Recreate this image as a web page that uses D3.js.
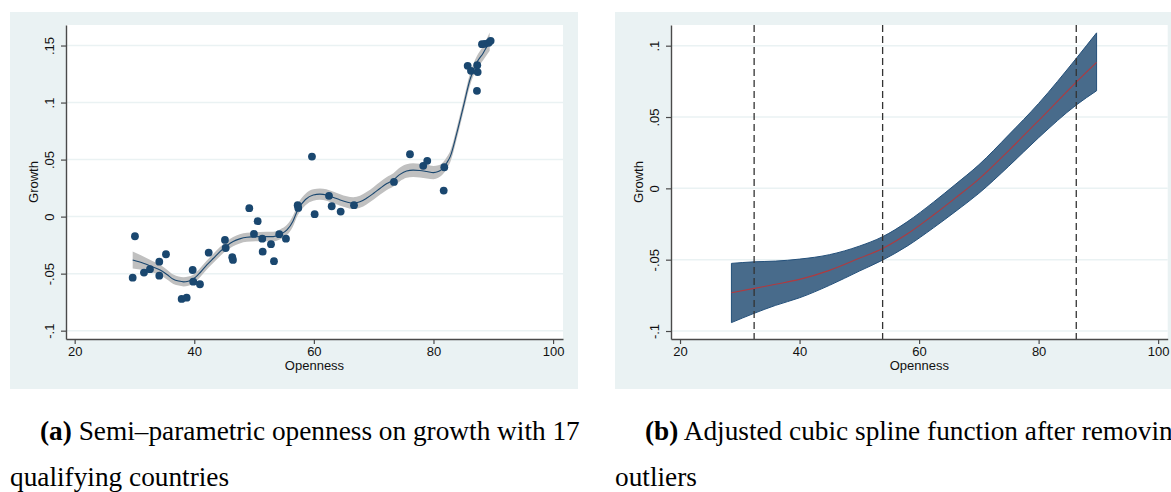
<!DOCTYPE html>
<html>
<head>
<meta charset="utf-8">
<script src="https://cdn.jsdelivr.net/npm/d3@7"></script>
<style>
  html, body { margin: 0; padding: 0; background: #ffffff; }
  svg { display: block; }
</style>
</head>
<body>
<svg id="chart" width="1171" height="492"></svg>
<script>
// ---------------- DATA ----------------
// Panel (a): scatter of openness vs growth
const scatterOpenness = [29.70, 30.08, 31.59, 32.59, 34.15, 34.15, 35.27, 37.89, 38.73, 39.73, 39.83, 40.95,
  42.41, 45.13, 45.25, 46.35, 46.47, 49.20, 49.98, 50.60, 51.37, 51.44, 52.83, 53.33, 54.21, 55.33,
  57.29, 57.39, 59.68, 60.13, 62.53, 62.98, 64.48, 66.71, 73.39, 76.07, 78.29, 78.96, 81.71, 81.81,
  85.72, 86.27, 87.32, 87.39, 87.27, 88.11, 88.61, 89.23, 89.56];
const scatterGrowth = [-0.0535, -0.0172, -0.0491, -0.0461, -0.0395, -0.0518, -0.0330, -0.0722, -0.0711, -0.0468, -0.0570, -0.0593,
  -0.0316, -0.0204, -0.0275, -0.0356, -0.0380, 0.0074, -0.0152, -0.0040, -0.0193, -0.0307, -0.0242, -0.0391, -0.0154, -0.0193,
  0.0100, 0.0076, 0.0526, 0.0021, 0.0182, 0.0091, 0.0044, 0.0100, 0.0304, 0.0547, 0.0445, 0.0489, 0.0228, 0.0433,
  0.1322, 0.1278, 0.1328, 0.1267, 0.1103, 0.1512, 0.1515, 0.1524, 0.1541];

// Panel (a): semi-parametric fit and half-width of its confidence band
const fitOpennessA = [29.7, 31.5, 33.0, 34.3, 35.5, 36.5, 37.4, 38.2, 39.0, 39.8, 41.0, 42.1, 43.2, 44.3, 45.4, 46.5,
  47.6, 48.8, 51.0, 53.2, 54.4, 55.5, 56.5, 57.3, 58.6, 59.9, 61.0, 62.1, 63.3, 64.4, 65.5, 66.6, 67.7, 68.8,
  70.0, 71.1, 72.2, 73.3, 74.4, 75.5, 76.6, 77.7, 78.9, 80.0, 80.8, 81.6, 82.2, 82.8, 83.9, 85.0, 86.1, 87.2, 88.3, 89.4];
const fitGrowthA = [-0.0380, -0.0409, -0.0440, -0.0468, -0.0510, -0.0549, -0.0565, -0.0572, -0.0566, -0.0549, -0.0490, -0.0424,
  -0.0365, -0.0307, -0.0258, -0.0219, -0.0195, -0.0181, -0.0175, -0.0175, -0.0155, -0.0117, -0.0040, 0.0059, 0.0150, 0.0190,
  0.0197, 0.0190, 0.0168, 0.0146, 0.0128, 0.0118, 0.0130, 0.0161, 0.0205, 0.0249, 0.0290, 0.0322, 0.0370, 0.0400, 0.0408,
  0.0404, 0.0395, 0.0386, 0.0395, 0.0425, 0.0470, 0.0526, 0.0732, 0.0965, 0.1200, 0.1346, 0.1433, 0.1535];
const bandHalfA = [0.0075, 0.0060, 0.0050, 0.0045, 0.0043, 0.0041, 0.0040, 0.0040, 0.0040, 0.0040, 0.0040, 0.0040,
  0.0040, 0.0040, 0.0040, 0.0040, 0.0040, 0.0040, 0.0040, 0.0042, 0.0044, 0.0045, 0.0047, 0.0048, 0.0050, 0.0050,
  0.0050, 0.0050, 0.0050, 0.0050, 0.0050, 0.0052, 0.0053, 0.0054, 0.0055, 0.0056, 0.0057, 0.0058, 0.0060, 0.0060, 0.0060,
  0.0060, 0.0060, 0.0058, 0.0055, 0.0052, 0.0050, 0.0050, 0.0050, 0.0050, 0.0052, 0.0055, 0.0062, 0.0080];

// Panel (b): restricted cubic spline fit with confidence band
const fitOpennessB = [28.6, 32.4, 36.0, 40.0, 45.0, 50.0, 53.9, 58.0, 62.4, 66.0, 70.0, 75.0, 80.0, 86.3, 89.7];
const fitGrowthB   = [-0.0732, -0.0701, -0.0672, -0.0638, -0.0575, -0.0490, -0.0421, -0.0320, -0.0187, -0.0070, 0.0065, 0.0265, 0.0475, 0.0745, 0.0883];
const lowerB       = [-0.0941, -0.0876, -0.0820, -0.0767, -0.0680, -0.0580, -0.0503, -0.0405, -0.0277, -0.0165, -0.0035, 0.0155, 0.0355, 0.0584, 0.0684];
const upperB       = [-0.0526, -0.0515, -0.0510, -0.0496, -0.0465, -0.0405, -0.0339, -0.0235, -0.0097, 0.0025, 0.0165, 0.0375, 0.0595, 0.0911, 0.1090];
const knotsB = [32.4, 53.9, 86.3];

// Axis tick values / labels
const xTicks = [20, 40, 60, 80, 100];
const yTicksA = [-0.1, -0.05, 0, 0.05, 0.1, 0.15];
const yTickLabelsA = ["-.1", "-.05", "0", ".05", ".1", ".15"];
const yTicksB = [-0.1, -0.05, 0, 0.05, 0.1];
const yTickLabelsB = ["-.1", "-.05", "0", ".05", ".1"];

const captionA = ["Semi\u2013parametric openness on growth with 17", "qualifying countries"];
const captionB = ["Adjusted cubic spline function after removing", "outliers"];

// ---------------- DRAW ----------------
const svg = d3.select("#chart");
const BG = "#eaf2f3";
const NAVY = "#1a476f";
const AXIS = "#4a4a4a";
const sans = "'Liberation Sans', Arial, Helvetica, sans-serif";
const serif = "'Liberation Serif', 'Times New Roman', serif";

function panel(cfg) {
  const g = svg.append("g");
  g.append("rect").attr("x", cfg.outer[0]).attr("y", cfg.outer[1])
    .attr("width", cfg.outer[2]).attr("height", cfg.outer[3]).attr("fill", BG);
  const [x0, x1] = cfg.x.range();
  const [y0, y1] = cfg.y.range();
  g.append("rect").attr("x", x0).attr("y", y1).attr("width", x1 - x0).attr("height", y0 - y1).attr("fill", "#ffffff");
  g.selectAll(".grid").data(cfg.yTicks).join("line")
    .attr("x1", x0).attr("x2", x1)
    .attr("y1", d => cfg.y(d)).attr("y2", d => cfg.y(d))
    .attr("stroke", BG).attr("stroke-width", 1.5);
  return g;
}

function axes(g, cfg) {
  const [x0, x1] = cfg.x.range();
  const [y0, y1] = cfg.y.range();
  const ya = g.append("g").attr("transform", `translate(${x0},0)`)
    .call(d3.axisLeft(cfg.y).tickValues(cfg.yTicks).tickSize(5).tickSizeOuter(0)
      .tickFormat((d, i) => cfg.yLabels[i]));
  ya.select(".domain").attr("stroke", AXIS).attr("stroke-width", 1.4);
  ya.selectAll(".tick line").attr("stroke", AXIS).attr("stroke-width", 1.2);
  ya.selectAll(".tick text")
    .attr("font-family", sans).attr("font-size", 13).attr("fill", "#111")
    .attr("text-anchor", "middle").attr("x", null).attr("dy", null)
    .attr("transform", "translate(-17,0) rotate(-90)")
    .attr("dominant-baseline", "central");
  const xa = g.append("g").attr("transform", `translate(0,${y0})`)
    .call(d3.axisBottom(cfg.x).tickValues(xTicks).tickSize(5).tickSizeOuter(0).tickFormat(d3.format("d")));
  xa.select(".domain").attr("stroke", AXIS).attr("stroke-width", 1.4);
  xa.selectAll(".tick line").attr("stroke", AXIS).attr("stroke-width", 1.2);
  xa.selectAll(".tick text").attr("font-family", sans).attr("font-size", 13).attr("fill", "#111")
    .attr("y", 8).attr("dy", "0.71em");
  g.append("text").attr("x", (x0 + x1) / 2).attr("y", 370)
    .attr("text-anchor", "middle").attr("font-family", sans).attr("font-size", 13).attr("fill", "#111")
    .text("Openness");
  g.append("text").attr("transform", `translate(${x0 - 33},${(y0 + y1) / 2}) rotate(-90)`)
    .attr("text-anchor", "middle").attr("dominant-baseline", "central")
    .attr("font-family", sans).attr("font-size", 13).attr("fill", "#111")
    .text("Growth");
}

function caption(x, lines, label) {
  const t1 = svg.append("text").attr("x", x + 30).attr("y", 440)
    .attr("font-family", serif).attr("font-size", 27.3).attr("fill", "#000");
  t1.append("tspan").attr("font-weight", "bold").text(label);
  t1.append("tspan").text(" " + lines[0]);
  svg.append("text").attr("x", x).attr("y", 486)
    .attr("font-family", serif).attr("font-size", 27.3).attr("fill", "#000").text(lines[1]);
}

// ---- Panel (a)
const xA = d3.scaleLinear().domain([18.55, 101.66]).range([66, 563]);
const yA = d3.scaleLinear().domain([-0.1073, 0.168]).range([339, 25]);
const cfgA = { x: xA, y: yA, yTicks: yTicksA, yLabels: yTickLabelsA, outer: [10, 12, 568, 377] };
const gA = panel(cfgA);

const fitA = fitOpennessA.map((o, i) => ({ o, g: fitGrowthA[i], h: bandHalfA[i] }));
gA.append("path").datum(fitA)
  .attr("d", d3.area().x(d => xA(d.o)).y0(d => yA(d.g - d.h)).y1(d => yA(d.g + d.h)).curve(d3.curveMonotoneX))
  .attr("fill", "#c0c0c0");
gA.append("path").datum(fitA)
  .attr("d", d3.line().x(d => xA(d.o)).y(d => yA(d.g)).curve(d3.curveMonotoneX))
  .attr("fill", "none").attr("stroke", NAVY).attr("stroke-width", 1.1);
gA.selectAll(".pt").data(scatterOpenness.map((o, i) => ({ o, g: scatterGrowth[i] })))
  .join("circle").attr("cx", d => xA(d.o)).attr("cy", d => yA(d.g)).attr("r", 3.9).attr("fill", NAVY);
axes(gA, cfgA);

// ---- Panel (b)
const xB = d3.scaleLinear().domain([18.49, 101.6]).range([671, 1167.7]);
const yB = d3.scaleLinear().domain([-0.1056, 0.1145]).range([339, 25]);
const cfgB = { x: xB, y: yB, yTicks: yTicksB, yLabels: yTickLabelsB, outer: [615, 12, 560, 377] };
const gB = panel(cfgB);

const fitB = fitOpennessB.map((o, i) => ({ o, g: fitGrowthB[i], lo: lowerB[i], hi: upperB[i] }));
gB.append("path").datum(fitB)
  .attr("d", d3.area().x(d => xB(d.o)).y0(d => yB(d.lo)).y1(d => yB(d.hi)).curve(d3.curveMonotoneX))
  .attr("fill", "#486b8b").attr("stroke", "#24507a").attr("stroke-width", 1);
gB.append("path").datum(fitB)
  .attr("d", d3.line().x(d => xB(d.o)).y(d => yB(d.g)).curve(d3.curveMonotoneX))
  .attr("fill", "none").attr("stroke", "#b03a3f").attr("stroke-width", 1.1);
gB.selectAll(".knot").data(knotsB).join("line")
  .attr("x1", d => xB(d)).attr("x2", d => xB(d))
  .attr("y1", yB.range()[1]).attr("y2", yB.range()[0])
  .attr("stroke", "#333").attr("stroke-width", 1.3).attr("stroke-dasharray", "7,4");
axes(gB, cfgB);

caption(10, captionA, "(a)");
caption(615, captionB, "(b)");
</script>
</body>
</html>
